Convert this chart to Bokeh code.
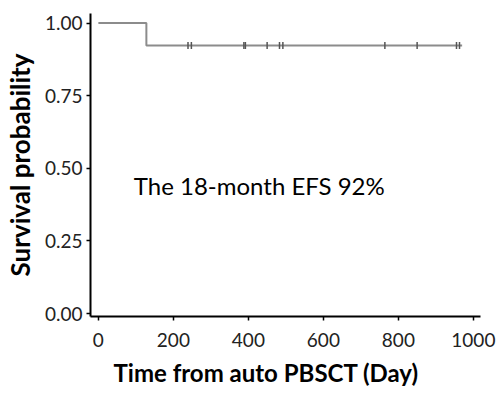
from bokeh.plotting import figure
from bokeh.embed import file_html
from bokeh.resources import INLINE
from bokeh.models import Range1d, FixedTicker, Label, Title
import numpy as np

# Kaplan-Meier data
step_times = [0, 128, 970]
step_surv = [1.0, 0.923, 0.923]
censor_times = [239, 248, 388, 392, 450, 483, 492, 764, 850, 955, 963]
censor_surv = [0.923] * len(censor_times)
x_ticks = [0, 200, 400, 600, 800, 1000]
y_ticks = [0.0, 0.25, 0.5, 0.75, 1.0]
y_tick_labels = {0.0: "0.00", 0.25: "0.25", 0.5: "0.50", 0.75: "0.75", 1.0: "1.00"}
annotation = "The 18-month EFS 92%"
x_title = "Time from auto PBSCT (Day)"
y_title = "Survival probability"

FONT = "Lato"

p = figure(width=503, height=395, output_backend="svg", toolbar_location=None,
           x_range=Range1d(-21, 1019), y_range=Range1d(-0.01, 1.033),
           min_border_left=90, min_border_right=23, min_border_top=13, min_border_bottom=79)
p.background_fill_color = "white"
p.border_fill_color = "white"
p.outline_line_color = None
p.grid.visible = False

p.step(step_times, step_surv, mode="after", line_color="#8c8c8c", line_width=2)
p.scatter(censor_times, censor_surv, marker="dash", angle=np.pi / 2, size=7,
          line_color="#555555", line_width=1.5)

for ax in (p.xaxis, p.yaxis):
    ax.axis_line_color = "black"
    ax.axis_line_width = 2
    ax.major_tick_line_color = "black"
    ax.major_tick_line_width = 1.5
    ax.major_tick_out = 4
    ax.major_tick_in = 0
    ax.minor_tick_line_color = None
    ax.major_label_text_font = FONT
    ax.major_label_text_font_size = "19px"
    ax.major_label_text_color = "#222222"

p.xaxis.ticker = FixedTicker(ticks=x_ticks)
p.yaxis.ticker = FixedTicker(ticks=y_ticks)
p.yaxis.major_label_overrides = y_tick_labels
p.xaxis.major_label_standoff = 12
p.yaxis.major_label_standoff = 4

p.yaxis.axis_label = y_title
p.yaxis.axis_label_text_font = FONT
p.yaxis.axis_label_text_font_size = "26px"
p.yaxis.axis_label_text_font_style = "bold"
p.yaxis.axis_label_text_color = "black"
p.yaxis.axis_label_standoff = 6

# x-axis title: offset from the panel centre as in the original
p.add_layout(Title(text=x_title, align="left", offset=23, text_font=FONT,
                   text_font_size="24px", text_font_style="bold", text_color="black",
                   standoff=12), "below")

p.add_layout(Label(x=429, y=0.44, text=annotation, text_font=FONT,
                   text_font_size="24px", text_align="center", text_baseline="middle",
                   text_color="black"))

open("out.html", "w").write(file_html(p, INLINE))
